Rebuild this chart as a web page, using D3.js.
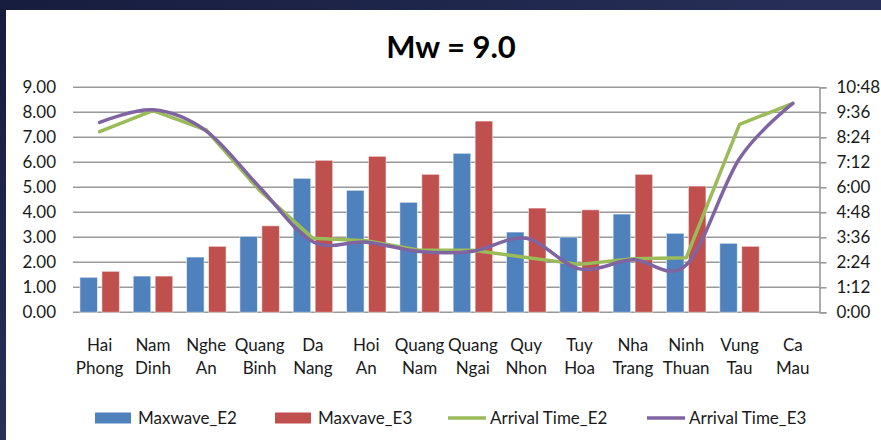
<!DOCTYPE html>
<html>
<head>
<meta charset="utf-8">
<script src="https://cdn.jsdelivr.net/npm/d3@7"></script>
<style>
	body { margin: 0; background: #1b2245; }
	svg { display: block; }
	text { font-family: Lato, "Open Sans", sans-serif; fill: #1a1a1a; }
</style>
</head>
<body>
<svg id="chart" width="881" height="440"></svg>
<script>

// Stations along the coast
const stations = ["Hai Phong", "Nam Dinh", "Nghe An", "Quang Binh", "Da Nang",
				  "Hoi An", "Quang Nam", "Quang Ngai", "Quy Nhon", "Tuy Hoa",
				  "Nha Trang", "Ninh Thuan", "Vung Tau", "Ca Mau"];

// Max wave height (m), left axis
const maxwaveE2 = [1.40, 1.45, 2.21, 3.04, 5.36, 4.88, 4.40, 6.36, 3.21, 3.01, 3.93, 3.16, 2.76, null];
const maxwaveE3 = [1.64, 1.45, 2.64, 3.46, 6.08, 6.24, 5.52, 7.65, 4.17, 4.10, 5.52, 5.05, 2.64, null];

// Arrival time (h:mm), right axis
const arrivalE2 = ["8:40", "9:41", "8:45", "5:51", "3:33", "3:26", "2:59", "2:59", "2:38", "2:18", "2:34", "2:37", "9:01", "10:02"];
const arrivalE3 = ["9:07", "9:43", "8:42", "6:00", "3:23", "3:22", "2:55", "2:56", "3:33", "2:05", "2:31", "2:16", "7:23", "10:02"];

const leftTicks = [0, 1, 2, 3, 4, 5, 6, 7, 8, 9];
const rightTicks = ["0:00", "1:12", "2:24", "3:36", "4:48", "6:00", "7:12", "8:24", "9:36", "10:48"];

const colors = { e2: "#4f81bd", e3: "#c0504d", t2: "#9bbb59", t3: "#8064a2" };

function toHours(s) {
	const p = s.split(":");
	return +p[0] + (+p[1]) / 60;
}

const svg = d3.select("#chart");

// Dark backdrop with the white chart panel
const bg = svg.append("defs").append("linearGradient")
	.attr("id", "bg").attr("x1", 0).attr("y1", 0).attr("x2", 1).attr("y2", 1);
bg.append("stop").attr("offset", "0%").attr("stop-color", "#161c3d");
bg.append("stop").attr("offset", "50%").attr("stop-color", "#28305a");
bg.append("stop").attr("offset", "100%").attr("stop-color", "#1a2146");

svg.append("rect").attr("width", 881).attr("height", 440).attr("fill", "url(#bg)");
svg.append("rect").attr("x", 6).attr("y", 10).attr("width", 875).attr("height", 430).attr("fill", "#fff");

const plot = { left: 73, right: 819.5, top: 87.3, bottom: 312.3 };

const x0 = d3.scaleBand()
	.domain(stations)
	.range([plot.left, plot.right])
	.padding(0);

const x1 = d3.scaleBand()
	.domain(["e2", "e3"])
	.range([6.9, x0.bandwidth() - 6.9])
	.paddingInner(0.2);

const yLeft = d3.scaleLinear().domain([0, 9]).range([plot.bottom, plot.top]);
const yRight = d3.scaleLinear().domain([0, 10.8]).range([plot.bottom, plot.top]);

// Title
svg.append("text")
	.attr("x", 451).attr("y", 58)
	.attr("text-anchor", "middle")
	.style("font-size", "31px")
	.style("font-weight", "bold")
	.style("fill", "#000")
	.text("Mw = 9.0");

// Gridlines
svg.append("g")
	.selectAll("line")
	.data(leftTicks)
	.join("line")
		.attr("x1", plot.left).attr("x2", plot.right)
		.attr("y1", d => yLeft(d)).attr("y2", d => yLeft(d))
		.attr("stroke", "#999")
		.attr("stroke-width", 1.6);

// Left axis (no line, labels only)
svg.append("g")
	.attr("transform", "translate(" + plot.left + ",0)")
	.call(d3.axisLeft(yLeft)
		.tickValues(leftTicks)
		.tickSize(0)
		.tickPadding(17)
		.tickFormat(d3.format(".2f")))
	.call(g => g.select(".domain").remove())
	.selectAll("text")
		.style("font-size", "17px")
		.style("font-family", "Lato, sans-serif")
		.attr("fill", "#1a1a1a");

// Right axis
const rAxis = svg.append("g")
	.attr("transform", "translate(" + plot.right + ",0)")
	.call(d3.axisRight(yRight)
		.tickValues(rightTicks.map(toHours))
		.tickSize(7)
		.tickPadding(10)
		.tickFormat((d, i) => rightTicks[i]));
rAxis.select(".domain").attr("stroke", "#999").attr("stroke-width", 1.6);
rAxis.selectAll(".tick line").attr("stroke", "#999").attr("stroke-width", 1.6);
rAxis.selectAll("text")
	.style("font-size", "17px")
	.style("font-family", "Lato, sans-serif")
	.attr("fill", "#1a1a1a");

// Bars
const barData = [];
stations.forEach((s, i) => {
	if (maxwaveE2[i] != null) barData.push({ s: s, k: "e2", v: maxwaveE2[i] });
	if (maxwaveE3[i] != null) barData.push({ s: s, k: "e3", v: maxwaveE3[i] });
});

svg.append("g")
	.selectAll("rect")
	.data(barData)
	.join("rect")
		.attr("x", d => x0(d.s) + x1(d.k))
		.attr("y", d => yLeft(d.v))
		.attr("width", x1.bandwidth())
		.attr("height", d => yLeft(0) - yLeft(d.v))
		.attr("fill", d => colors[d.k])
		.attr("stroke", "rgba(255,255,255,0.55)")
		.attr("stroke-width", 1);

// Arrival time lines: E2 straight, E3 smoothed
const cx = s => x0(s) + x0.bandwidth() / 2;

const lineE2 = d3.line()
	.x((d, i) => cx(stations[i]))
	.y(d => yRight(toHours(d)));

const lineE3 = d3.line()
	.x((d, i) => cx(stations[i]))
	.y(d => yRight(toHours(d)))
	.curve(d3.curveCardinal.tension(0));

svg.append("path")
	.attr("d", lineE2(arrivalE2))
	.attr("fill", "none")
	.attr("stroke", colors.t2)
	.attr("stroke-width", 3.5)
	.attr("stroke-linejoin", "round")
	.attr("stroke-linecap", "round");

svg.append("path")
	.attr("d", lineE3(arrivalE3))
	.attr("fill", "none")
	.attr("stroke", colors.t3)
	.attr("stroke-width", 3.5)
	.attr("stroke-linecap", "round");

// Category labels, two lines each
const labels = svg.append("g")
	.selectAll("text")
	.data(stations)
	.join("text")
		.attr("x", d => cx(d))
		.attr("y", 350.5)
		.attr("text-anchor", "middle")
		.style("font-size", "17px");

labels.selectAll("tspan")
	.data(d => d.split(" "))
	.join("tspan")
		.attr("x", function() { return this.parentNode.getAttribute("x"); })
		.attr("dy", (d, i) => i == 0 ? 0 : 23.5)
		.text(d => d);

// Legend
const legendItems = [
	{ name: "Maxwave_E2", type: "bar", color: colors.e2, x: 95 },
	{ name: "Maxvave_E3", type: "bar", color: colors.e3, x: 275 },
	{ name: "Arrival Time_E2", type: "line", color: colors.t2, x: 448 },
	{ name: "Arrival Time_E3", type: "line", color: colors.t3, x: 647 }
];

const legend = svg.append("g")
	.selectAll("g")
	.data(legendItems)
	.join("g")
		.attr("transform", d => "translate(" + d.x + ",418)");

legend.filter(d => d.type == "bar")
	.append("rect")
		.attr("x", 0).attr("y", -5.5)
		.attr("width", 36).attr("height", 11)
		.attr("fill", d => d.color);

legend.filter(d => d.type == "line")
	.append("line")
		.attr("x1", 0).attr("x2", 38)
		.attr("stroke", d => d.color)
		.attr("stroke-width", 3.5);

legend.append("text")
	.attr("x", d => d.type == "bar" ? 43 : 42)
	.attr("y", 6)
	.style("font-size", "17px")
	.text(d => d.name);

</script>
</body>
</html>
